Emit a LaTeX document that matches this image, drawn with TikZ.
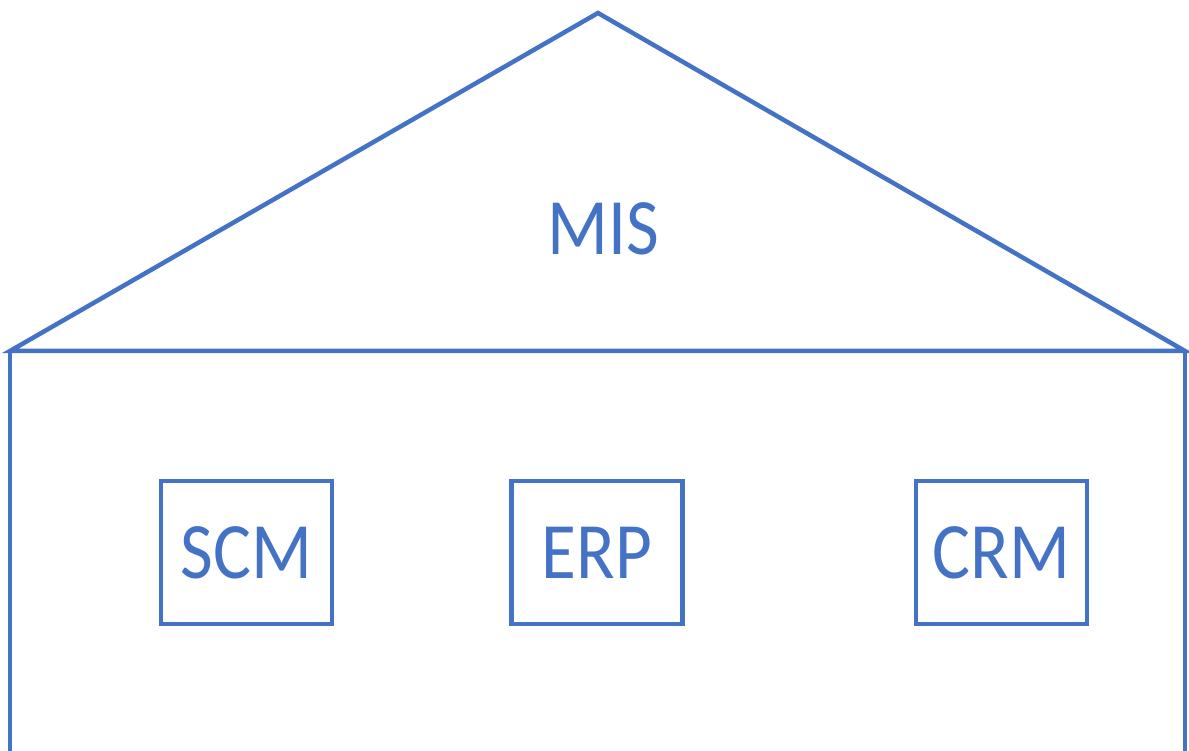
\documentclass[tikz,border=0pt]{standalone}
\usepackage{fontspec}
\setmainfont{Carlito}
\definecolor{misblue}{HTML}{4472C4}
\newcommand{\smal}[1]{\scalebox{0.89}[1]{#1}}

\begin{document}
\begin{tikzpicture}[x=1pt,y=1pt,line width=4.5pt,misblue,
        big/.style={font=\fontsize{80}{96}\selectfont},
        module/.style={draw,big,inner sep=0pt,minimum width=171pt,minimum height=143pt}]
        \useasboundingbox (0,0) rectangle (1189,-751);
        % dak
        \draw [line join=miter] (10,-351) -- (598,-13) -- (1185,-351) -- cycle;
        \node [big] (mis) at (603,-228.5) {\smal{MIS}};
        % muren
        \draw (10,-351) -- (10,-751);
        \draw (1185,-351) -- (1185,-751);
        % modules
        \node [module] (scm) at (246.5,-552.5) {\smal{SCM}};
        \node [module] (erp) at (597,-552.5) {\smal{ERP}};
        \node [module] (crm) at (1001.5,-552.5) {\smal{CRM}};
    \end{tikzpicture}
\end{document}
